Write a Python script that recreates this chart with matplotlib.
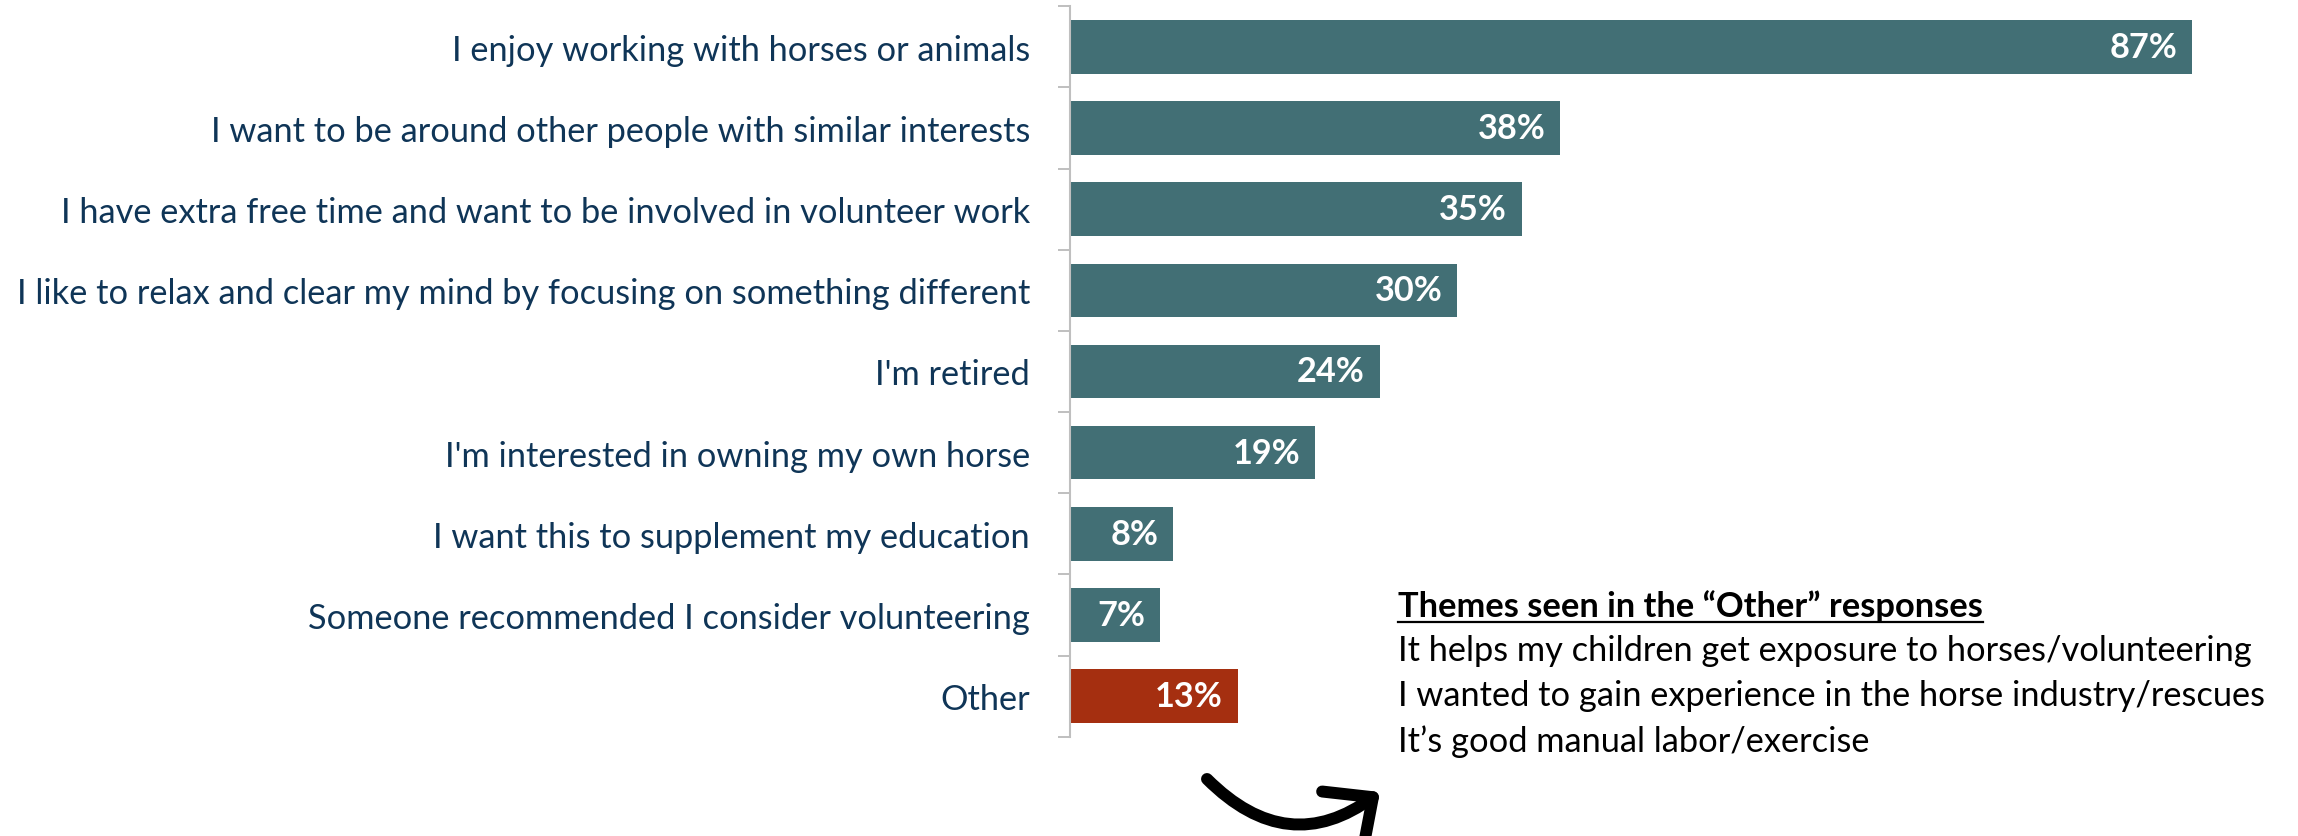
import numpy as np
import matplotlib
matplotlib.use("Agg")
import matplotlib.pyplot as plt
from matplotlib.patches import FancyArrowPatch, ArrowStyle
from matplotlib.lines import Line2D

# Survey: reasons for volunteering
categories = [
    "I enjoy working with horses or animals",
    "I want to be around other people with similar interests",
    "I have extra free time and want to be involved in volunteer work",
    "I like to relax and clear my mind by focusing on something different",
    "I'm retired",
    "I'm interested in owning my own horse",
    "I want this to supplement my education",
    "Someone recommended I consider volunteering",
    "Other",
]
values = [87, 38, 35, 30, 24, 19, 8, 7, 13]
highlight = "Other"

themes_title = "Themes seen in the \u201cOther\u201d responses"
themes = [
    "It helps my children get exposure to horses/volunteering",
    "I wanted to gain experience in the horse industry/rescues",
    "It\u2019s good manual labor/exercise",
]

BAR = "#426F75"
HIGHLIGHT = "#A52F10"
LABEL = "#0F3557"
AXIS = "#BFBFBF"
FONT = "Lato"

W, H = 2298, 837
fig = plt.figure(figsize=(W / 100, H / 100), dpi=100)
renderer = fig.canvas.get_renderer()


def fit_size(text, target_px, weight="normal", base=20.0):
    t = fig.text(0, 0, text, fontsize=base, family=FONT, weight=weight)
    w = t.get_window_extent(renderer).width
    t.remove()
    return base * target_px / w


label_size = fit_size(max(categories, key=len), 1015)
value_size = fit_size("87%", 68, weight="bold")
theme_size = fit_size(themes[1], 869)

# plot area in pixels
x0_px, top_px, bot_px = 1070, 7.3, 737.7
px_per_unit = 12.9
ax = fig.add_axes([x0_px / W, 1 - bot_px / H, (W - x0_px) / W, (bot_px - top_px) / H])
ax.set_xlim(0, (W - x0_px) / px_per_unit)

n = len(categories)
y = np.arange(n)
colors = [HIGHLIGHT if c == highlight else BAR for c in categories]
ax.barh(y, values, height=0.66, color=colors, zorder=2)
ax.set_ylim(n - 0.5, -0.5)

for yi, v in zip(y, values):
    ax.annotate(f"{v}%", xy=(v, yi), xytext=(-10.5, 0), textcoords="offset points",
                ha="right", va="center", color="white", fontsize=value_size,
                fontweight="bold", family=FONT)

ax.set_yticks(y, categories)
ax.set_yticks(np.arange(-0.5, n, 1.0), minor=True)
ax.tick_params(axis="y", which="major", length=0, pad=28.8, labelsize=label_size,
               labelcolor=LABEL)
ax.tick_params(axis="y", which="minor", length=8.6, width=1.4, color=AXIS)
for lbl in ax.get_yticklabels():
    lbl.set_family(FONT)
ax.set_xticks([])
for s in ("top", "right", "bottom"):
    ax.spines[s].set_visible(False)
ax.spines["left"].set_color(AXIS)
ax.spines["left"].set_linewidth(1.5)
ax.set_facecolor("none")

# Themes from the free-text "Other" answers
tx = 1398 / W
title = fig.text(tx, 1 - 617 / H, themes_title, fontsize=theme_size, family=FONT,
                 fontweight="bold", color="black", va="baseline")
bb = title.get_window_extent(renderer)
fig.add_artist(Line2D([bb.x0 / W, bb.x1 / W], [1 - 623 / H, 1 - 623 / H],
                      transform=fig.transFigure, color="black", lw=1.6))
for i, line in enumerate(themes):
    fig.text(tx, 1 - (661 + 45.5 * i) / H, line, fontsize=theme_size, family=FONT,
             color="black", va="baseline")

# curved pointer from the "Other" bar to the themes
arrow = FancyArrowPatch(
    (1207 / W, 1 - 780 / H), (1380 / W, 1 - 793 / H),
    transform=fig.transFigure, connectionstyle="arc3,rad=0.43",
    arrowstyle=ArrowStyle("->", head_length=2.7, head_width=2.5),
    mutation_scale=10, lw=8.6, color="black", shrinkA=0, shrinkB=0,
    capstyle="round", joinstyle="round",
)
fig.add_artist(arrow)

fig.savefig("out.png", dpi=100, facecolor="white")
